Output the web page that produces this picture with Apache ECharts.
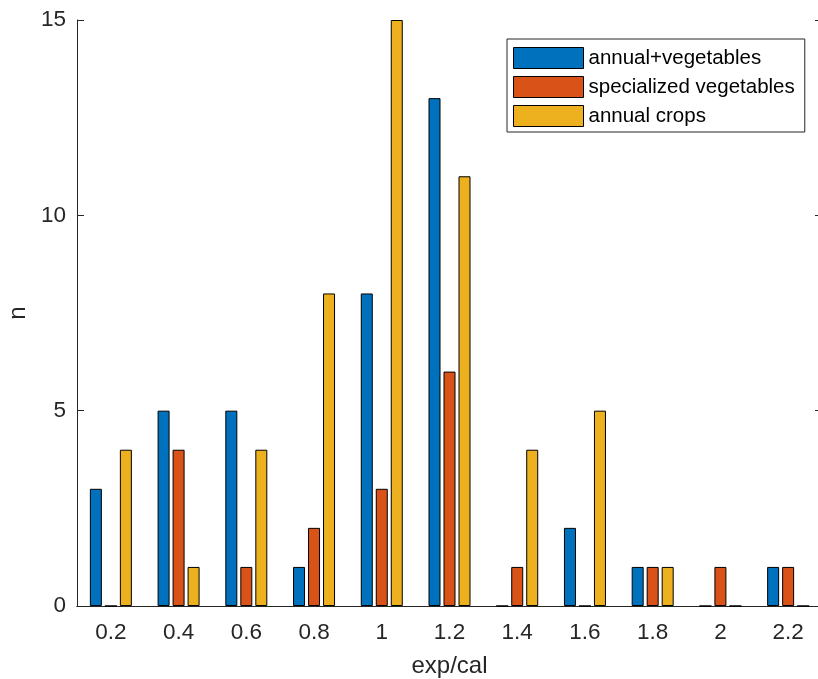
<!DOCTYPE html>
<html>
<head>
<meta charset="utf-8">
<script src="https://cdn.jsdelivr.net/npm/echarts@6/dist/echarts.min.js"></script>
<style>
  html, body { margin: 0; padding: 0; background: #fff; }
  #chart { width: 818px; height: 679px; }
</style>
</head>
<body>
<div id="chart"></div>
<script>
// categories on x (exp/cal bins)
const categories = ['0.2', '0.4', '0.6', '0.8', '1', '1.2', '1.4', '1.6', '1.8', '2', '2.2'];

// counts per bin
const annualVeg = [3, 5, 5, 1, 8, 13, 0, 2, 1, 0, 1];
const specializedVeg = [0, 4, 1, 2, 3, 6, 1, 0, 1, 1, 1];
const annualCrops = [4, 1, 4, 8, 15, 11, 4, 5, 1, 0, 0];

const seriesNames = ['annual+vegetables', 'specialized vegetables', 'annual crops'];
const colors = ['#0072BD', '#D95319', '#EDB120'];

const axisColor = '#262626';
const font = 'Liberation Sans, Arial, sans-serif';

const chart = echarts.init(document.getElementById('chart'));

function makeSeries(name, values, color) {
    return {
        name: name,
        type: 'bar',
        barWidth: 12,
        barGap: '25%',
        itemStyle: { color: color, borderColor: '#000', borderWidth: 1 },
        data: values
    };
}

const option = {
    animation: false,
    textStyle: { fontFamily: font },
    // plot box runs a little past the right edge, like the cropped original
    grid: { left: 77, top: 20, width: 745, height: 586, containLabel: false, outerBoundsMode: 'none' },
    legend: {
        orient: 'vertical',
        left: 507,
        top: 39,
        padding: [8, 10, 5, 6],
        itemWidth: 70,
        itemHeight: 21,
        itemGap: 7,
        borderColor: axisColor,
        borderWidth: 1,
        backgroundColor: '#fff',
        icon: 'rect',
        itemStyle: { borderColor: '#000', borderWidth: 1 },
        textStyle: { fontSize: 20.5, color: '#000', fontFamily: font },
        data: seriesNames
    },
    xAxis: [
        {
            type: 'category',
            data: categories,
            boundaryGap: true,
            name: 'exp/cal',
            nameLocation: 'middle',
            nameGap: 48,
            nameTextStyle: { fontSize: 24, color: axisColor },
            axisLine: { lineStyle: { color: axisColor, width: 1 } },
            axisTick: { inside: true, alignWithLabel: true, length: 7, lineStyle: { color: axisColor } },
            axisLabel: { fontSize: 22.5, color: axisColor, margin: 15 },
            splitLine: { show: false }
        },
        {
            type: 'category',
            data: categories,
            position: 'top',
            boundaryGap: true,
            axisLine: { lineStyle: { color: axisColor, width: 1 } },
            axisTick: { inside: true, alignWithLabel: true, length: 7, lineStyle: { color: axisColor } },
            axisLabel: { show: false }
        }
    ],
    yAxis: [
        {
            type: 'value',
            min: 0,
            max: 15,
            interval: 5,
            name: 'n',
            nameLocation: 'middle',
            nameGap: 44,
            nameTextStyle: { fontSize: 24, color: axisColor },
            axisLine: { show: true, lineStyle: { color: axisColor, width: 1 } },
            axisTick: { show: true, inside: true, length: 7, lineStyle: { color: axisColor } },
            axisLabel: { fontSize: 22.5, color: axisColor, margin: 11 },
            splitLine: { show: false }
        },
        {
            type: 'value',
            min: 0,
            max: 15,
            interval: 5,
            position: 'right',
            axisLine: { show: true, lineStyle: { color: axisColor, width: 1 } },
            axisTick: { show: true, inside: true, length: 7, lineStyle: { color: axisColor } },
            axisLabel: { show: false },
            splitLine: { show: false }
        }
    ],
    series: [
        makeSeries(seriesNames[0], annualVeg, colors[0]),
        makeSeries(seriesNames[1], specializedVeg, colors[1]),
        makeSeries(seriesNames[2], annualCrops, colors[2])
    ]
};

chart.setOption(option);
</script>
</body>
</html>
